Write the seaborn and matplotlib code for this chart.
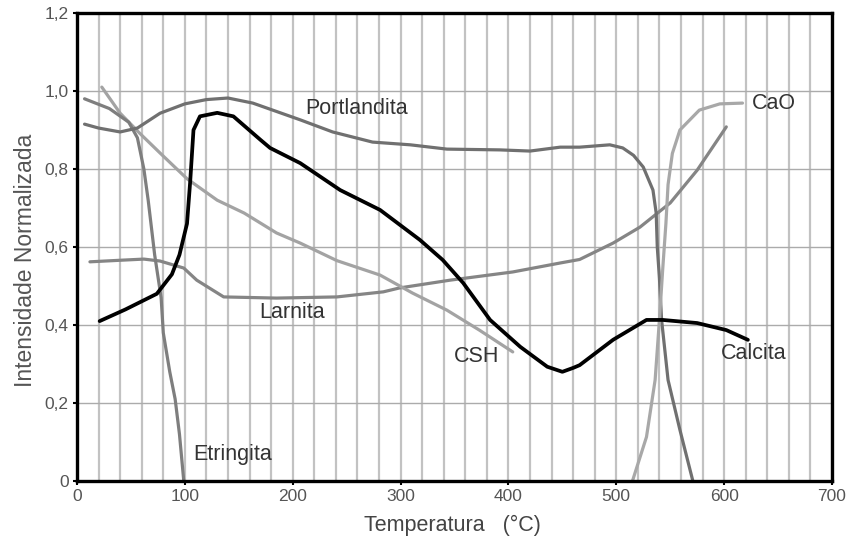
import numpy as np
import pandas as pd
import matplotlib
matplotlib.use("Agg")
import matplotlib.pyplot as plt
import seaborn as sns

# ---- data ----
portlandita_x = [7, 20, 40, 56, 77, 100, 120, 140, 163, 207, 237, 274, 309, 343, 392, 420, 448, 466, 494, 506, 516, 525, 534, 537, 538, 540, 542, 548, 559, 571]
portlandita_y = [0.915, 0.905, 0.895, 0.905, 0.943, 0.967, 0.978, 0.982, 0.969, 0.926, 0.895, 0.869, 0.862, 0.851, 0.849, 0.846, 0.856, 0.856, 0.862, 0.854, 0.835, 0.805, 0.746, 0.687, 0.60, 0.52, 0.413, 0.259, 0.131, 0.0]

calcita_x = [21, 45, 74, 88, 95, 102, 105, 108, 114, 130, 145, 170, 179, 207, 244, 281, 318, 339, 358, 383, 411, 436, 450, 460, 466, 497, 528, 543, 575, 602, 622]
calcita_y = [0.41, 0.44, 0.48, 0.53, 0.58, 0.66, 0.77, 0.90, 0.935, 0.944, 0.935, 0.875, 0.854, 0.815, 0.746, 0.695, 0.618, 0.567, 0.508, 0.413, 0.344, 0.293, 0.28, 0.29, 0.297, 0.362, 0.413, 0.413, 0.405, 0.387, 0.362]

etringita_x = [7, 30, 48, 56, 62, 66, 72, 78, 80, 86, 91, 95, 99]
etringita_y = [0.98, 0.955, 0.92, 0.88, 0.80, 0.72, 0.58, 0.47, 0.38, 0.28, 0.21, 0.12, 0.0]

csh_x = [23, 40, 58, 77, 102, 130, 155, 185, 207, 241, 281, 311, 343, 373, 404]
csh_y = [1.01, 0.943, 0.892, 0.841, 0.775, 0.72, 0.687, 0.636, 0.61, 0.565, 0.528, 0.482, 0.438, 0.387, 0.331]

larnita_x = [12, 40, 62, 77, 99, 111, 136, 185, 241, 284, 299, 346, 404, 448, 466, 497, 522, 550, 575, 602]
larnita_y = [0.562, 0.566, 0.569, 0.564, 0.546, 0.515, 0.472, 0.469, 0.472, 0.485, 0.495, 0.515, 0.536, 0.559, 0.568, 0.61, 0.651, 0.713, 0.797, 0.908]

cao_x = [515, 528, 536, 540, 543, 546, 548, 552, 559, 577, 596, 617]
cao_y = [0.0, 0.113, 0.259, 0.413, 0.541, 0.66, 0.76, 0.84, 0.90, 0.951, 0.967, 0.969]

labels = ["Portlandita", "Larnita", "CSH", "Calcita", "CaO", "Etringita"]
label_x = [259, 199, 370, 627, 646, 144]
label_y = [0.956, 0.431, 0.318, 0.328, 0.969, 0.067]

y_ticks = [0, 0.2, 0.4, 0.6, 0.8, 1.0, 1.2]
y_ticklabels = ["0", "0,2", "0,4", "0,6", "0,8", "1,0", "1,2"]
x_ticks = [0, 100, 200, 300, 400, 500, 600, 700]
x_ticklabels = ["0", "100", "200", "300", "400", "500", "600", "700"]

sns.set_theme(style="white")
plt.rcParams["font.family"] = ["Liberation Sans", "DejaVu Sans"]

fig = plt.figure(figsize=(8.46, 5.40), dpi=100)
ax = fig.add_axes([77 / 846, 1 - 481 / 540, (832 - 77) / 846, (481 - 13) / 540])

series = [
    (larnita_x, larnita_y, "#858585", 2.3),
    (csh_x, csh_y, "#a3a3a3", 2.3),
    (etringita_x, etringita_y, "#7e7e7e", 2.3),
    (portlandita_x, portlandita_y, "#707070", 2.3),
    (cao_x, cao_y, "#a8a8a8", 2.3),
    (calcita_x, calcita_y, "#000000", 2.7),
]
for xs, ys, col, lw in series:
    df = pd.DataFrame({"T": xs, "I": ys})
    sns.lineplot(data=df, x="T", y="I", sort=False, color=col, linewidth=lw, ax=ax)

ax.set_xlim(0, 700)
ax.set_ylim(0, 1.2)

ax.set_xticks(np.arange(0, 701, 20), minor=True)
ax.set_xticks(x_ticks)
ax.set_xticklabels(x_ticklabels)
ax.set_yticks(y_ticks)
ax.set_yticklabels(y_ticklabels)

ax.grid(False)
ax.xaxis.grid(True, which="both", color="#c2c2c2", linewidth=1.6)
ax.yaxis.grid(True, which="major", color="#ababab", linewidth=1.0)
ax.set_axisbelow(True)

for sp in ax.spines.values():
    sp.set_visible(True)
    sp.set_color("black")
    sp.set_linewidth(2.4)

ax.tick_params(axis="both", which="major", direction="out", length=3, width=1.5,
               color="black", labelsize=12.5, labelcolor="#555555", pad=3)
ax.tick_params(axis="x", which="minor", length=0)
ax.tick_params(left=True, bottom=True)

ax.set_xlabel("Temperatura   (°C)", fontsize=15.5, color="#444444")
ax.set_ylabel("Intensidade Normalizada", fontsize=16.5, color="#555555")
ax.xaxis.set_label_coords((452 - 77) / 755, (481 - 525) / 468)
ax.xaxis.label.set_va("center")
ax.yaxis.set_label_coords((25 - 77) / 755, (481 - 260) / 468)
ax.yaxis.label.set_va("center")

for t, lx, ly in zip(labels, label_x, label_y):
    ax.text(lx, ly, t, fontsize=15.5, color="#333333", ha="center", va="center")

fig.savefig("out.png", dpi=100)
